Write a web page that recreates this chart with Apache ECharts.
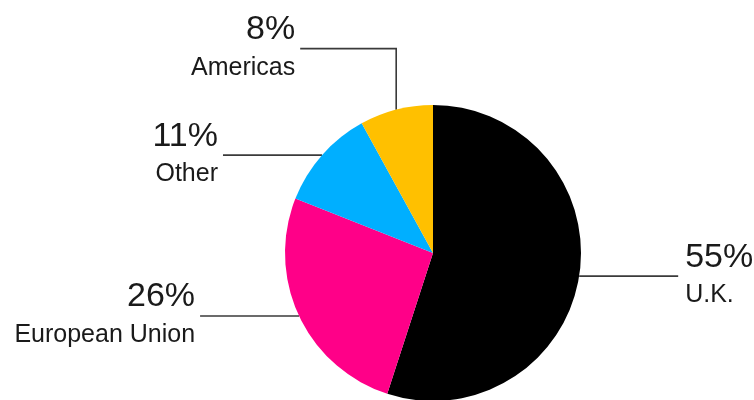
<!DOCTYPE html>
<html>
<head>
<meta charset="utf-8">
<style>
  html, body { margin: 0; padding: 0; background: #ffffff; }
  #chart { width: 754px; height: 400px; }
</style>
<script src="https://cdn.jsdelivr.net/npm/echarts@6/dist/echarts.min.js"></script>
</head>
<body>
<div id="chart"></div>
<script>
// Share of total by region, clockwise from 12 o'clock
const regions = ['U.K.', 'European Union', 'Other', 'Americas'];
const shares = [55, 26, 11, 8];
const sliceColors = ['#000000', '#ff0088', '#00afff', '#ffc000'];

// Leader line shape per slice: optional vertical leg, then horizontal leg (px)
const leaderRise = [0, 0, 0, -61];
const leaderRun = [99, -99, -99, -96];

const chart = echarts.init(document.getElementById('chart'), null, { renderer: 'canvas' });

const FONT = '"Liberation Sans", Arial, Helvetica, sans-serif';

chart.setOption({
  backgroundColor: '#ffffff',
  animation: false,
  series: [{
    type: 'pie',
    center: [433, 253],
    radius: [0, 148],
    startAngle: 90,
    clockwise: true,
    avoidLabelOverlap: false,
    silent: true,
    data: regions.map((name, i) => ({
      name,
      value: shares[i],
      itemStyle: { color: sliceColors[i] }
    })),
    itemStyle: { borderWidth: 0 },
    label: {
      show: true,
      position: 'outside',
      formatter: p => '{p|' + p.value + '%}\n{n|' + p.name + '}',
      rich: {
        p: { fontFamily: FONT, fontSize: 34, lineHeight: 38, color: '#1a1a1a' },
        n: { fontFamily: FONT, fontSize: 25, lineHeight: 38, color: '#1a1a1a' }
      }
    },
    labelLine: {
      show: true,
      length: 10,
      length2: 10,
      lineStyle: { color: '#3a3a3a', width: 1.6 }
    },
    labelLayout: params => {
      const i = params.dataIndex;
      const start = params.labelLinePoints[0];
      const elbow = [start[0], start[1] + leaderRise[i]];
      const end = [elbow[0] + leaderRun[i], elbow[1]];
      const toRight = leaderRun[i] > 0;
      const pts = leaderRise[i] !== 0 ? [start, elbow, end] : [start, end];
      return {
        x: end[0] + (toRight ? 7 : -5),
        y: end[1] - 38,
        align: toRight ? 'left' : 'right',
        verticalAlign: 'top',
        labelLinePoints: pts
      };
    }
  }]
});
</script>
</body>
</html>
